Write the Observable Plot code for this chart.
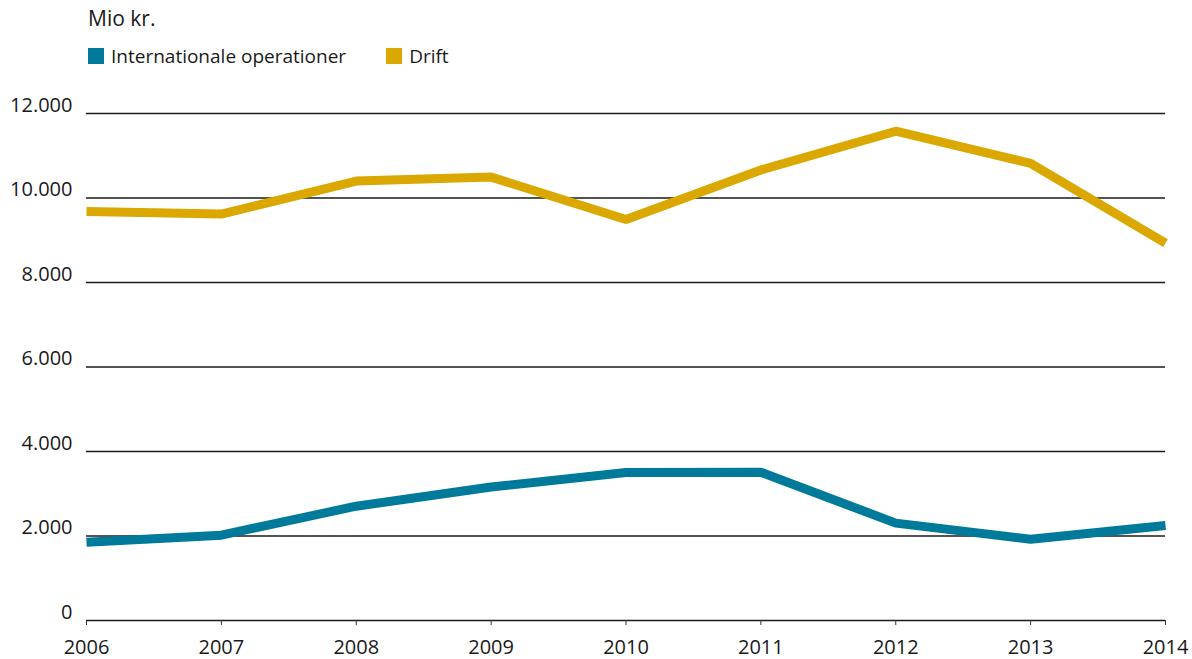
<!DOCTYPE html>
<html>
<head>
<meta charset="utf-8">
<script src="https://cdn.jsdelivr.net/npm/d3@7"></script>
<script src="https://cdn.jsdelivr.net/npm/@observablehq/plot@0.6"></script>
<style>
  body { margin: 0; background: #fff; font-family: "Open Sans", "Noto Sans", sans-serif; color: #1a1a1a; }
  #wrap { position: relative; width: 1192px; height: 659px; }
  #unit { position: absolute; left: 88px; top: 4px; font-size: 21px; font-weight: 400; }
  #legend { position: absolute; left: 88px; top: 43px; font-size: 19px; font-weight: 400; display: flex; }
  .item { display: flex; align-items: center; }
  .sw { width: 16px; height: 16px; margin-right: 7px; }
  #chart { position: absolute; left: 0; top: 80px; }
</style>
</head>
<body>
<div id="wrap">
  <div id="unit">Mio kr.</div>
  <div id="legend"></div>
  <div id="chart"></div>
</div>
<script>
const years = [2006, 2007, 2008, 2009, 2010, 2011, 2012, 2013, 2014];
const seriesNames = ["Internationale operationer", "Drift"];
const seriesColors = ["#007a9a", "#daa800"];
const internationale = [1850, 2020, 2705, 3160, 3505, 3510, 2305, 1925, 2250];
const drift = [9680, 9620, 10400, 10495, 9490, 10665, 11580, 10820, 8930];
const yTicks = [0, 2000, 4000, 6000, 8000, 10000, 12000];

const data = [];
years.forEach((y, i) => {
  data.push({year: y, value: internationale[i], series: seriesNames[0]});
  data.push({year: y, value: drift[i], series: seriesNames[1]});
});

const loc = d3.formatLocale({decimal: ",", thousands: ".", grouping: [3], currency: ["", ""]});
const fmt = loc.format(",");

const legend = document.getElementById("legend");
seriesNames.forEach((n, i) => {
  const it = document.createElement("div");
  it.className = "item";
  if (i === 0) it.style.marginRight = "40px";
  it.innerHTML = `<div class="sw" style="background:${seriesColors[i]}"></div><span>${n}</span>`;
  legend.appendChild(it);
});

const chart = Plot.plot({
  width: 1192,
  height: 579,
  marginLeft: 86,
  marginRight: 27,
  marginTop: 33,
  marginBottom: 39,
  style: {fontFamily: "'Open Sans', 'Noto Sans', sans-serif", fontSize: "20px", color: "#1a1a1a", fontWeight: 400},
  x: {domain: [2006, 2014], ticks: years, tickFormat: d => String(d), tickSize: 5, tickPadding: 14, label: null},
  y: {domain: [0, 12000], ticks: yTicks, tickFormat: d => fmt(d), label: null, tickSize: 0},
  color: {domain: seriesNames, range: seriesColors},
  marks: [
    Plot.gridY(yTicks, {stroke: "#1a1a1a", strokeOpacity: 1, strokeWidth: 1.3}),
    Plot.axisY({ticks: yTicks, tickFormat: d => fmt(d), tickSize: 0, tickPadding: 14, dy: -8, label: null, fontSize: 20}),
    Plot.axisX({ticks: years, tickFormat: d => String(d), tickSize: 5, tickPadding: 14, label: null, fontSize: 20, stroke: "#333"}),
    Plot.line(data, {x: "year", y: "value", z: "series", stroke: "series", strokeWidth: 9, strokeLinejoin: "miter", strokeLinecap: "butt"})
  ]
});
document.getElementById("chart").appendChild(chart);
</script>
</body>
</html>
